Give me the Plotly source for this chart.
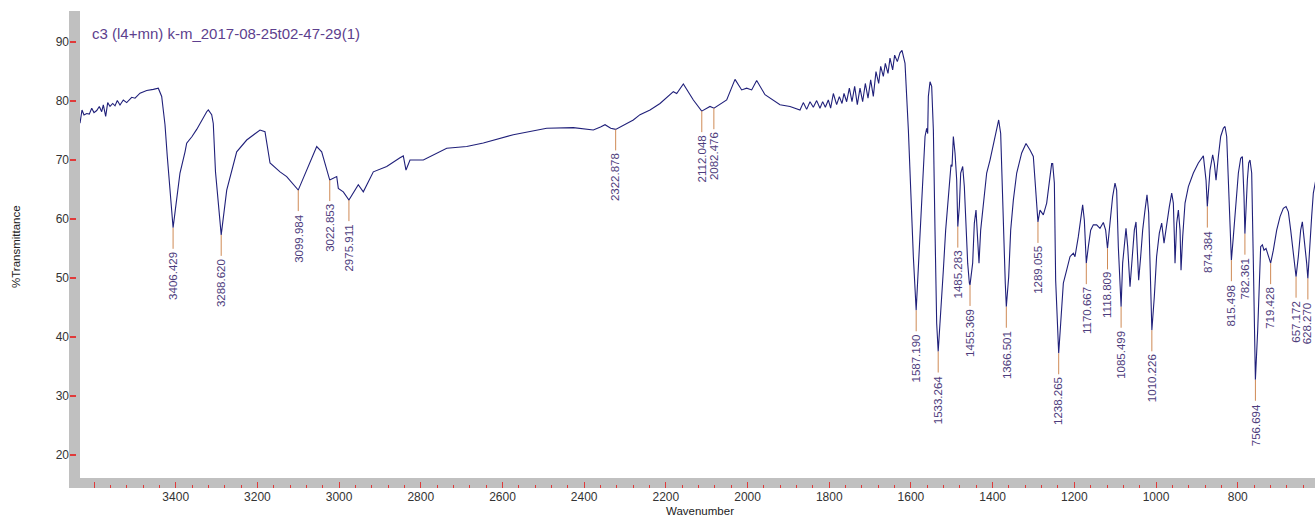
import plotly.graph_objects as go

TITLE = "c3 (l4+mn) k-m_2017-08-25t02-47-29(1)"
X_LABEL = "Wavenumber"
Y_LABEL = "%Transmittance"

WAVENUMBER = [
    3634.3, 3629.4, 3624.5, 3617.9, 3611.5, 3605.6, 3600.0, 3593.4, 3587.0, 3581.2,
    3577.2, 3571.4, 3566.5, 3560.8, 3554.2, 3548.6, 3543.0, 3536.4, 3528.3, 3520.0,
    3507.7, 3499.6, 3487.4, 3471.0, 3454.8, 3442.6, 3434.3, 3426.2, 3420.6, 3415.7,
    3406.4, 3401.0, 3389.5, 3377.2, 3373.1, 3360.0, 3348.6, 3324.1, 3320.2, 3311.9,
    3308.0, 3302.6, 3295.0, 3288.6, 3275.1, 3250.7, 3226.2, 3193.6, 3181.4, 3169.1,
    3144.6, 3128.3, 3100.0, 3071.2, 3054.8, 3042.6, 3022.9, 3005.8, 3001.9, 2989.7,
    2975.9, 2953.0, 2940.7, 2916.2, 2883.4, 2850.9, 2842.8, 2836.2, 2826.4, 2793.8,
    2736.5, 2687.6, 2646.9, 2573.5, 2491.7, 2426.6, 2377.6, 2360.0, 2348.9, 2335.0,
    2322.9, 2279.7, 2263.3, 2238.8, 2214.3, 2181.7, 2173.5, 2157.2, 2132.7, 2112.3,
    2091.9, 2082.1, 2051.1, 2030.7, 2014.4, 2002.2, 1989.9, 1977.7, 1957.3, 1920.6,
    1896.1, 1871.6, 1863.5, 1855.3, 1847.1, 1839.0, 1830.8, 1822.7, 1816.1, 1809.6,
    1802.3, 1796.6, 1790.0, 1781.9, 1775.3, 1768.8, 1763.9, 1757.4, 1750.8, 1744.3,
    1737.8, 1731.3, 1724.7, 1718.2, 1711.7, 1705.1, 1698.6, 1692.1, 1685.6, 1679.0,
    1674.1, 1667.6, 1662.7, 1656.2, 1651.3, 1644.8, 1639.9, 1633.3, 1626.8, 1621.9,
    1614.5, 1606.3, 1600.6, 1594.1, 1587.2, 1581.9, 1576.1, 1569.6, 1565.5, 1561.5,
    1559.0, 1557.4, 1553.3, 1549.2, 1545.1, 1541.1, 1537.0, 1533.3, 1527.2, 1520.7,
    1515.0, 1508.4, 1504.3, 1501.9, 1499.4, 1496.2, 1492.1, 1488.0, 1485.3, 1481.5,
    1478.2, 1473.3, 1469.3, 1465.2, 1461.1, 1457.0, 1455.4, 1448.9, 1444.8, 1440.7,
    1437.4, 1433.4, 1429.3, 1422.7, 1414.6, 1406.4, 1398.3, 1390.1, 1385.2, 1380.3,
    1377.0, 1372.1, 1369.0, 1366.5, 1360.7, 1355.8, 1349.3, 1341.1, 1328.9, 1318.3,
    1308.5, 1300.4, 1296.3, 1292.2, 1289.1, 1284.0, 1275.9, 1267.7, 1261.2, 1255.5,
    1253.0, 1248.9, 1245.7, 1241.6, 1238.3, 1233.4, 1226.9, 1218.8, 1210.6, 1202.4,
    1198.4, 1190.2, 1183.7, 1179.6, 1175.5, 1170.7, 1165.7, 1160.0, 1153.5, 1145.3,
    1137.2, 1129.0, 1123.3, 1118.8, 1112.7, 1106.2, 1100.4, 1096.4, 1092.3, 1085.5,
    1081.7, 1077.6, 1073.5, 1069.4, 1063.7, 1058.1, 1053.1, 1049.0, 1045.8, 1042.5,
    1037.6, 1032.7, 1027.0, 1022.1, 1018.0, 1013.1, 1010.2, 1004.2, 998.6, 991.9,
    986.1, 980.4, 973.9, 967.4, 961.6, 957.6, 955.1, 953.5, 949.4, 945.3,
    941.2, 938.8, 934.7, 929.0, 920.8, 908.6, 896.4, 888.2, 884.1, 877.6,
    874.4, 867.8, 861.3, 857.2, 853.1, 847.4, 841.7, 835.2, 831.1, 827.0,
    822.9, 818.8, 815.5, 810.7, 804.2, 798.4, 792.7, 788.6, 784.6, 782.4,
    776.4, 773.1, 769.9, 765.8, 761.7, 759.0, 756.7, 751.1, 747.8, 743.8,
    739.7, 735.6, 730.7, 725.0, 719.4, 712.8, 704.6, 696.4, 688.3, 681.7,
    676.0, 670.3, 663.8, 657.2, 651.6, 645.9, 641.8, 637.7, 631.2, 628.3,
    623.0, 619.0, 614.9, 610.8, 605.0,
]

TRANSMITTANCE = [
    76.25, 78.5, 77.65, 77.9, 77.8, 78.8, 78.05, 78.4, 79.1, 78.2,
    79.35, 77.4, 79.75, 79.1, 79.6, 79.2, 80.1, 79.35, 80.2, 79.75,
    80.65, 80.5, 81.35, 81.8, 82.0, 82.2, 80.8, 76.0, 70.6, 66.1,
    58.5, 61.5, 67.8, 71.4, 72.85, 74.0, 75.2, 78.2, 78.5, 77.7,
    76.2, 68.0, 62.0, 57.3, 64.9, 71.4, 73.4, 75.1, 74.8, 69.5,
    68.0, 67.2, 64.9, 69.5, 72.3, 71.4, 66.6, 67.2, 65.2, 64.6,
    63.2, 65.8, 64.6, 68.0, 68.9, 70.4, 70.7, 68.3, 70.0, 70.0,
    72.0, 72.3, 72.9, 74.3, 75.4, 75.5, 75.1, 75.6, 76.0, 75.4,
    75.2, 76.8, 77.7, 78.5, 79.6, 81.6, 81.3, 82.9, 80.2, 78.3,
    79.1, 78.8, 80.2, 83.7, 81.9, 82.2, 81.9, 83.5, 81.1, 79.4,
    79.1, 78.5, 79.75, 78.6, 79.9, 78.96, 80.09, 78.79, 79.92, 78.96,
    80.2, 78.8, 81.3, 79.4, 80.77, 79.6, 81.3, 79.9, 82.2, 79.9,
    82.5, 79.4, 82.2, 79.9, 83.0, 80.5, 83.6, 80.8, 85.0, 83.0,
    85.9, 84.2, 86.4, 84.7, 87.3, 85.3, 87.8, 86.7, 88.2, 88.6,
    86.4, 75.1, 63.8, 53.6, 44.5, 51.3, 60.4, 68.3, 74.0, 75.4,
    74.5, 80.8, 83.3, 82.5, 75.1, 58.1, 42.3, 37.5, 43.4, 51.3,
    58.1, 64.4, 68.3, 69.2, 68.9, 74.0, 71.2, 66.6, 58.7, 62.1,
    67.8, 68.9, 65.5, 58.1, 52.5, 49.1, 48.8, 52.5, 59.3, 61.5,
    57.0, 52.5, 58.1, 62.7, 67.8, 70.0, 72.8, 75.1, 76.8, 74.5,
    68.3, 55.9, 49.0, 45.1, 50.2, 58.1, 63.2, 67.8, 71.2, 72.8,
    71.7, 70.6, 66.6, 62.7, 59.5, 61.5, 60.7, 62.7, 66.1, 69.4,
    69.4, 66.1, 49.6, 41.1, 37.2, 42.3, 49.1, 51.3, 53.6, 54.2,
    53.6, 57.0, 60.4, 62.4, 59.8, 52.5, 55.3, 58.1, 59.0, 59.0,
    58.4, 59.4, 58.1, 55.0, 59.3, 63.8, 66.1, 64.9, 55.3, 45.1,
    52.5, 55.9, 58.4, 55.3, 48.5, 53.6, 58.1, 59.5, 53.6, 49.6,
    53.6, 58.1, 61.5, 64.1, 61.0, 49.6, 41.1, 46.8, 53.6, 57.6,
    59.3, 55.9, 59.3, 62.1, 64.4, 62.7, 57.0, 52.5, 59.3, 61.5,
    58.1, 51.3, 57.0, 62.7, 65.5, 67.8, 69.5, 70.3, 70.7, 66.6,
    62.1, 68.3, 70.9, 69.4, 66.6, 70.6, 74.0, 75.4, 75.7, 74.0,
    66.6, 58.1, 53.0, 57.0, 62.7, 67.8, 70.3, 70.6, 63.8, 57.5,
    66.6, 69.5, 70.0, 67.8, 52.5, 40.0, 32.7, 41.1, 49.6, 55.3,
    55.6, 54.7, 55.0, 53.6, 52.5, 54.7, 58.1, 60.4, 61.8, 62.1,
    61.2, 58.1, 53.6, 50.2, 53.6, 58.1, 59.5, 57.0, 52.5, 49.9,
    57.0, 60.4, 64.4, 66.1, 68.0,
]

PEAK_WN = [3406.429, 3288.620, 3099.984, 3022.853, 2975.911, 2322.878, 2112.048,
           2082.476, 1587.190, 1533.264, 1485.283, 1455.369, 1366.501, 1289.055,
           1238.265, 1170.667, 1118.809, 1085.499, 1010.226, 874.384, 815.498,
           782.361, 756.694, 719.428, 657.172, 628.270]
PEAK_T = [58.5, 57.3, 64.9, 66.6, 63.2, 75.2, 78.3,
          78.8, 44.5, 37.5, 58.7, 48.8, 45.1, 59.5,
          37.2, 52.5, 55.0, 45.1, 41.1, 62.1, 53.0,
          57.5, 32.7, 52.5, 50.2, 49.9]

Y_TICKS = [20, 30, 40, 50, 60, 70, 80, 90]
X_TICKS = [3600, 3400, 3200, 3000, 2800, 2600, 2400, 2200, 2000, 1800, 1600, 1400, 1200, 1000, 800]
X_TICK_TEXT = ["", "3400", "3200", "3000", "2800", "2600", "2400", "2200", "2000", "1800",
               "1600", "1400", "1200", "1000", "800"]

W, H = 1315, 518
ML, MR, MT, MB = 69, 0, 11, 30
PW = W - ML - MR
PH = H - MT - MB
BAND = 11  # px of gray axis band
BAND_Y = 10

LINE_COLOR = "#20207a"
MARK_COLOR = "#cf8a55"
LABEL_COLOR = "#4d3c7c"
TICK_COLOR = "#e03a3a"
GRAY = "#c0c0c0"
FONT = "Arial, Liberation Sans, sans-serif"

fig = go.Figure()
fig.add_trace(go.Scatter(x=WAVENUMBER, y=TRANSMITTANCE, mode="lines",
                         line=dict(color=LINE_COLOR, width=1.1), hoverinfo="x+y",
                         showlegend=False))

shapes = [
    dict(type="rect", xref="paper", yref="paper", x0=0, x1=1, y0=0, y1=BAND_Y / PH,
         fillcolor=GRAY, line=dict(width=0), layer="below"),
    dict(type="rect", xref="paper", yref="paper", x0=0, x1=BAND / PW, y0=0, y1=1,
         fillcolor=GRAY, line=dict(width=0), layer="below"),
]
annotations = []
for wn, t in zip(PEAK_WN, PEAK_T):
    shapes.append(dict(type="line", xref="x", yref="y", x0=wn, x1=wn,
                       ysizemode="pixel", yanchor=t, y0=0, y1=-21,
                       line=dict(color=MARK_COLOR, width=1)))
    annotations.append(dict(x=wn, y=t, xref="x", yref="y", text=f"{wn:.3f}",
                            showarrow=False, textangle=-90, yanchor="top", xanchor="center",
                            yshift=-22, font=dict(family=FONT, size=11.5, color=LABEL_COLOR)))

annotations.append(dict(x=(90 - ML) / PW, y=(H - MB - 33) / PH, xref="paper", yref="paper",
                        text=TITLE, showarrow=False, xanchor="left", yanchor="middle",
                        font=dict(family=FONT, size=15, color="#5d3f8e")))
annotations.append(dict(x=(700 - ML) / PW, y=(H - MB - 511) / PH, xref="paper", yref="paper",
                        text=X_LABEL, showarrow=False, xanchor="center", yanchor="middle",
                        font=dict(family=FONT, size=11.5, color="#222222")))
annotations.append(dict(x=(16 - ML) / PW, y=(H - MB - 247) / PH, xref="paper", yref="paper",
                        text=Y_LABEL, showarrow=False, xanchor="center", yanchor="middle",
                        textangle=-90, font=dict(family=FONT, size=11.5, color="#222222")))

fig.update_layout(
    width=W, height=H,
    margin=dict(l=ML, r=MR, t=MT, b=MB, pad=0),
    paper_bgcolor="white", plot_bgcolor="white",
    hovermode=False,
    shapes=shapes, annotations=annotations,
    xaxis=dict(range=[3634.3, 610.8], domain=[BAND / PW, 1], anchor="free", position=0,
               showgrid=False, zeroline=False, showline=False,
               tickmode="array", tickvals=X_TICKS, ticktext=X_TICK_TEXT,
               ticks="inside", ticklen=6, tickwidth=1, tickcolor=TICK_COLOR,
               minor=dict(dtick=40, tick0=0, ticks="inside", ticklen=3, tickwidth=1,
                          tickcolor=TICK_COLOR, showgrid=False),
               tickfont=dict(family=FONT, size=12, color="#333333")),
    yaxis=dict(range=[16.03, 95.3], domain=[BAND_Y / PH, 1], anchor="free", position=0,
               showgrid=False, zeroline=False, showline=False,
               tickmode="array", tickvals=Y_TICKS,
               ticks="inside", ticklen=6, tickwidth=1.5, tickcolor=TICK_COLOR,
               tickfont=dict(family=FONT, size=12, color="#333333")),
)

fig.write_html(
    "out.html",
    config={"displayModeBar": False},
    post_script="document.body.style.margin='0px';document.body.style.overflow='hidden';",
)
